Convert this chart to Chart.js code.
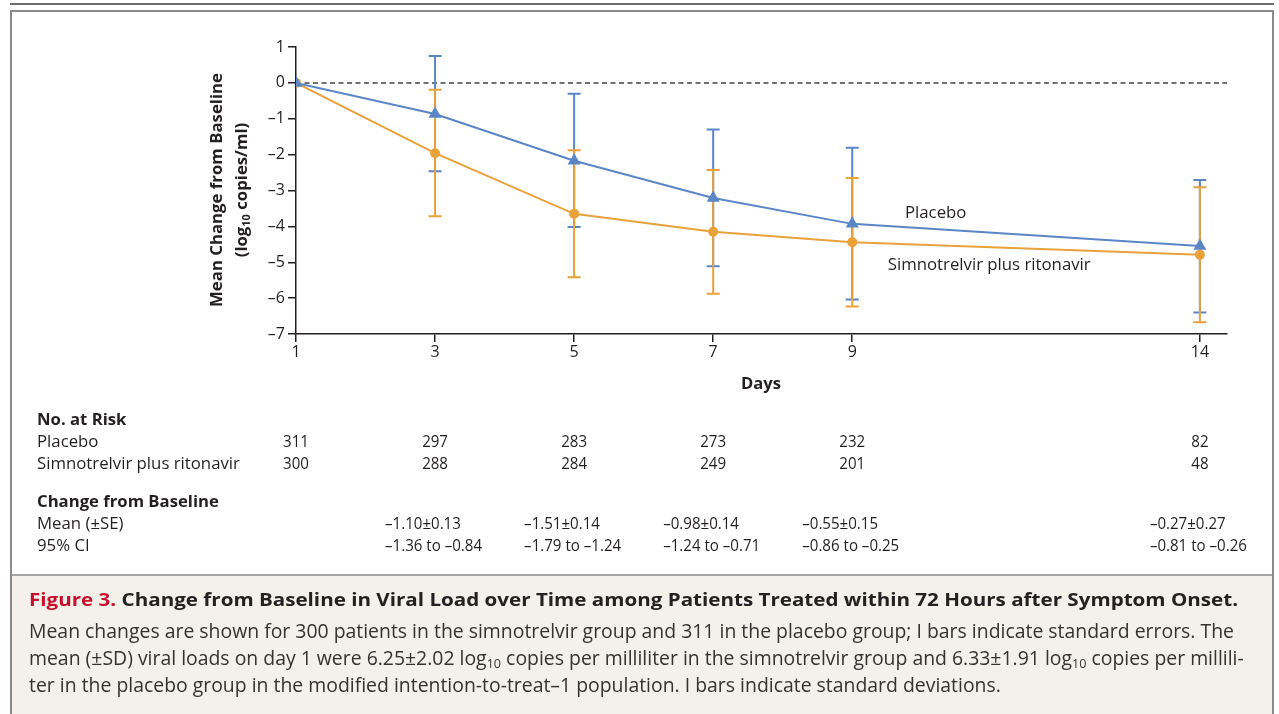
<!DOCTYPE html>
<html>
<head>
<meta charset="utf-8">
<script src="https://cdn.jsdelivr.net/npm/chart.js@4.4.1/dist/chart.umd.min.js"></script>
<style>
  html, body { margin: 0; padding: 0; background: #fff; }
  #wrap { width: 1279px; height: 714px; position: relative; }
</style>
</head>
<body>
<div id="wrap"><canvas id="chart" width="1279" height="714"></canvas></div>
<script>
// --- Data ---
const days = [1, 3, 5, 7, 9, 14];
const placeboMean = [0, -0.87, -2.17, -3.21, -3.93, -4.55];
const placeboUpper = [0, 0.75, -0.30, -1.30, -1.81, -2.71];
const placeboLower = [0, -2.46, -4.02, -5.11, -6.04, -6.40];
const simnoMean = [0, -1.96, -3.65, -4.15, -4.44, -4.79];
const simnoUpper = [0, -0.19, -1.88, -2.43, -2.65, -2.91];
const simnoLower = [0, -3.72, -5.42, -5.88, -6.23, -6.67];

const placeboAtRisk = [311, 297, 283, 273, 232, 82];
const simnoAtRisk = [300, 288, 284, 249, 201, 48];

const changeDays = [3, 5, 7, 9, 14];
const changeMean = ['–1.10±0.13', '–1.51±0.14', '–0.98±0.14', '–0.55±0.15', '–0.27±0.27'];
const changeCI = ['–1.36 to –0.84', '–1.79 to –1.24', '–1.24 to –0.71', '–0.86 to –0.25', '–0.81 to –0.26'];

const captionTitle = [
  { t: 'Figure 3.', color: '#c8102e' },
  { t: ' Change from Baseline in Viral Load over Time among Patients Treated within 72 Hours after Symptom Onset.' }
];
const captionLines = [
  [{ t: 'Mean changes are shown for 300 patients in the simnotrelvir group and 311 in the placebo group; I bars indicate standard errors. The' }],
  [{ t: 'mean (±SD) viral loads on day 1 were 6.25±2.02 log' }, { t: '10', sub: true },
   { t: ' copies per milliliter in the simnotrelvir group and 6.33±1.91 log' }, { t: '10', sub: true },
   { t: ' copies per millili-' }],
  [{ t: 'ter in the placebo group in the modified intention-to-treat–1 population. I bars indicate standard deviations.' }]
];

const BLUE = '#5a86c6';
const ORANGE = '#e9a13a';
const INK = '#231f20';
const FAMILY = '"Open Sans", Lato, sans-serif';

// --- Text helpers ---
const fontStr = (size, weight) => `${weight || 'normal'} ${size}px ${FAMILY}`;

const richWidth = (ctx, segs, size, weight) => {
  let w = 0;
  segs.forEach(s => {
    ctx.font = fontStr(s.sub ? size * 0.65 : size, weight);
    w += ctx.measureText(s.t).width;
  });
  return w;
};

// sx squeezes the run horizontally (the original face is narrower than Open Sans)
const drawRich = (ctx, segs, x, y, size, weight, color, align, sx = 1) => {
  let start = x;
  if (align === 'center') start = x - richWidth(ctx, segs, size, weight) * sx / 2;
  ctx.save();
  ctx.translate(start, y);
  ctx.scale(sx, 1);
  ctx.textBaseline = 'middle';
  ctx.textAlign = 'left';
  let cx = 0;
  segs.forEach(s => {
    const sz = s.sub ? size * 0.65 : size;
    ctx.font = fontStr(sz, weight);
    ctx.fillStyle = s.color || color;
    ctx.fillText(s.t, cx, s.sub ? size * 0.28 : 0);
    cx += ctx.measureText(s.t).width;
  });
  ctx.restore();
};

// font size so that a run of text matches a width measured on the figure
const fitSize = (ctx, segs, targetW, weight) => 100 * targetW / richWidth(ctx, segs, 100, weight);

// --- Plugins ---
const framePlugin = {
  id: 'frame',
  beforeDraw(chart) {
    const ctx = chart.ctx;
    ctx.save();
    ctx.fillStyle = '#fff';
    ctx.fillRect(0, 0, chart.width, chart.height);
    // caption background
    ctx.fillStyle = '#f4f1eb';
    ctx.fillRect(11, 575, 1262, 139);
    // top rule
    ctx.strokeStyle = '#3a3a3a';
    ctx.lineWidth = 1.5;
    ctx.beginPath(); ctx.moveTo(10, 4); ctx.lineTo(1274, 4); ctx.stroke();
    // box
    ctx.strokeStyle = '#8a8a8a';
    ctx.lineWidth = 2;
    ctx.beginPath();
    ctx.moveTo(11, 720); ctx.lineTo(11, 11); ctx.lineTo(1273, 11); ctx.lineTo(1273, 720);
    ctx.stroke();
    ctx.lineWidth = 1.5;
    ctx.beginPath(); ctx.moveTo(11, 575); ctx.lineTo(1273, 575); ctx.stroke();
    ctx.restore();
  },
  beforeDatasetsDraw(chart) {
    const { ctx, chartArea, scales: { x, y } } = chart;
    ctx.save();
    // dashed zero line
    ctx.strokeStyle = '#444';
    ctx.lineWidth = 1.5;
    ctx.setLineDash([5, 3.5]);
    const y0 = y.getPixelForValue(0);
    ctx.beginPath(); ctx.moveTo(chartArea.left, y0); ctx.lineTo(chartArea.right, y0); ctx.stroke();
    ctx.setLineDash([]);

    // error bars
    const bars = [
      { color: BLUE, up: placeboUpper, lo: placeboLower },
      { color: ORANGE, up: simnoUpper, lo: simnoLower }
    ];
    const cap = 6.5;
    bars.forEach(b => {
      ctx.strokeStyle = b.color;
      ctx.lineWidth = 2;
      days.forEach((d, i) => {
        if (i === 0) return;
        const px = x.getPixelForValue(d);
        const pu = y.getPixelForValue(b.up[i]);
        const pl = y.getPixelForValue(b.lo[i]);
        ctx.beginPath();
        ctx.moveTo(px, pu); ctx.lineTo(px, pl);
        ctx.moveTo(px - cap, pu); ctx.lineTo(px + cap, pu);
        ctx.moveTo(px - cap, pl); ctx.lineTo(px + cap, pl);
        ctx.stroke();
      });
    });
    ctx.restore();
  },
  afterDraw(chart) {
    const { ctx, scales: { x, y } } = chart;
    ctx.save();

    // y axis title (rotated, two lines)
    const yTitleSize = fitSize(ctx, [{ t: 'Mean Change from Baseline' }], 234, 'bold');
    ctx.translate(217, 190);
    ctx.rotate(-Math.PI / 2);
    drawRich(ctx, [{ t: 'Mean Change from Baseline' }], 0, 0, yTitleSize, 'bold', INK, 'center');
    drawRich(ctx, [{ t: '(log' }, { t: '10', sub: true }, { t: ' copies/ml)' }], 0, 25, yTitleSize, 'bold', INK, 'center');
    ctx.setTransform(1, 0, 0, 1, 0, 0);

    // x axis title
    drawRich(ctx, [{ t: 'Days' }], 761, 384, fitSize(ctx, [{ t: 'Days' }], 40, 'bold'), 'bold', INK, 'center');

    // series labels
    const labelSize = fitSize(ctx, [{ t: 'Simnotrelvir plus ritonavir' }], 203, 'normal');
    drawRich(ctx, [{ t: 'Placebo' }], x.getPixelForValue(10.2), y.getPixelForValue(-3.64), labelSize, 'normal', INK, 'center');
    drawRich(ctx, [{ t: 'Simnotrelvir plus ritonavir' }], x.getPixelForValue(10.97), y.getPixelForValue(-5.09), labelSize, 'normal', INK, 'center');

    // number at risk table
    const tx = 37;
    const headSize = fitSize(ctx, [{ t: 'Change from Baseline' }], 182, 'bold');
    const numSize = labelSize;
    const numSx = 97 / richWidth(ctx, [{ t: '–1.36 to –0.84' }], numSize, 'normal');
    drawRich(ctx, [{ t: 'No. at Risk' }], tx, 420, headSize, 'bold', INK);
    drawRich(ctx, [{ t: 'Placebo' }], tx, 442, labelSize, 'normal', INK);
    drawRich(ctx, [{ t: 'Simnotrelvir plus ritonavir' }], tx, 464, labelSize, 'normal', INK);
    days.forEach((d, i) => {
      const px = x.getPixelForValue(d);
      drawRich(ctx, [{ t: String(placeboAtRisk[i]) }], px, 442, numSize, 'normal', INK, 'center', numSx);
      drawRich(ctx, [{ t: String(simnoAtRisk[i]) }], px, 464, numSize, 'normal', INK, 'center', numSx);
    });

    // change from baseline table
    drawRich(ctx, [{ t: 'Change from Baseline' }], tx, 502, headSize, 'bold', INK);
    drawRich(ctx, [{ t: 'Mean (±SE)' }], tx, 524, labelSize, 'normal', INK);
    drawRich(ctx, [{ t: '95% CI' }], tx, 546, labelSize, 'normal', INK);
    changeDays.forEach((d, i) => {
      const px = x.getPixelForValue(d) - 50;
      drawRich(ctx, [{ t: changeMean[i] }], px, 524, numSize, 'normal', INK, 'left', numSx);
      drawRich(ctx, [{ t: changeCI[i] }], px, 546, numSize, 'normal', INK, 'left', numSx);
    });

    // caption
    const titleSize = 17.5;
    const titleSx = 1209 / richWidth(ctx, captionTitle, titleSize, 'bold');
    drawRich(ctx, captionTitle, 29, 601, titleSize, 'bold', '#222', 'left', titleSx);
    const bodySize = fitSize(ctx, captionLines[0], 1206, 'normal');
    [632, 659, 686].forEach((ly, i) => drawRich(ctx, captionLines[i], 29, ly, bodySize, 'normal', '#333'));

    ctx.restore();
  }
};

// --- Chart ---
const axisTick = { color: INK, font: { family: FAMILY, size: 16 } };

new Chart(document.getElementById('chart'), {
  type: 'line',
  data: {
    datasets: [
      {
        label: 'Placebo',
        data: days.map((d, i) => ({ x: d, y: placeboMean[i] })),
        borderColor: BLUE,
        backgroundColor: BLUE,
        borderWidth: 2,
        pointStyle: 'triangle',
        pointRadius: 7.5,
        pointBorderWidth: 0,
        tension: 0
      },
      {
        label: 'Simnotrelvir plus ritonavir',
        data: days.map((d, i) => ({ x: d, y: simnoMean[i] })),
        borderColor: ORANGE,
        backgroundColor: ORANGE,
        borderWidth: 2,
        pointStyle: 'circle',
        pointRadius: 5,
        pointBorderWidth: 0,
        tension: 0
      }
    ]
  },
  options: {
    responsive: false,
    animation: false,
    layout: { padding: { top: 47, right: 52, bottom: 340, left: 0 } },
    plugins: {
      legend: { display: false },
      tooltip: { enabled: false }
    },
    scales: {
      x: {
        type: 'linear',
        min: 1,
        max: 14.39,
        afterBuildTicks: (scale) => { scale.ticks = days.map(v => ({ value: v })); },
        afterFit: (scale) => { scale.height = 40; },
        ticks: { ...axisTick, padding: 1, maxRotation: 0, autoSkip: false },
        grid: { drawOnChartArea: false, drawTicks: true, tickLength: 8, color: INK, lineWidth: 1.5 },
        border: { display: true, color: INK, width: 1.5 }
      },
      y: {
        min: -7,
        max: 1,
        afterFit: (scale) => { scale.width = 296; },
        ticks: {
          ...axisTick,
          stepSize: 1,
          padding: 3,
          callback: (v) => (v < 0 ? '–' + Math.abs(v) : String(v))
        },
        grid: { drawOnChartArea: false, drawTicks: true, tickLength: 8, color: INK, lineWidth: 1.5 },
        border: { display: true, color: INK, width: 1.5 }
      }
    }
  },
  plugins: [framePlugin]
});
</script>
</body>
</html>
